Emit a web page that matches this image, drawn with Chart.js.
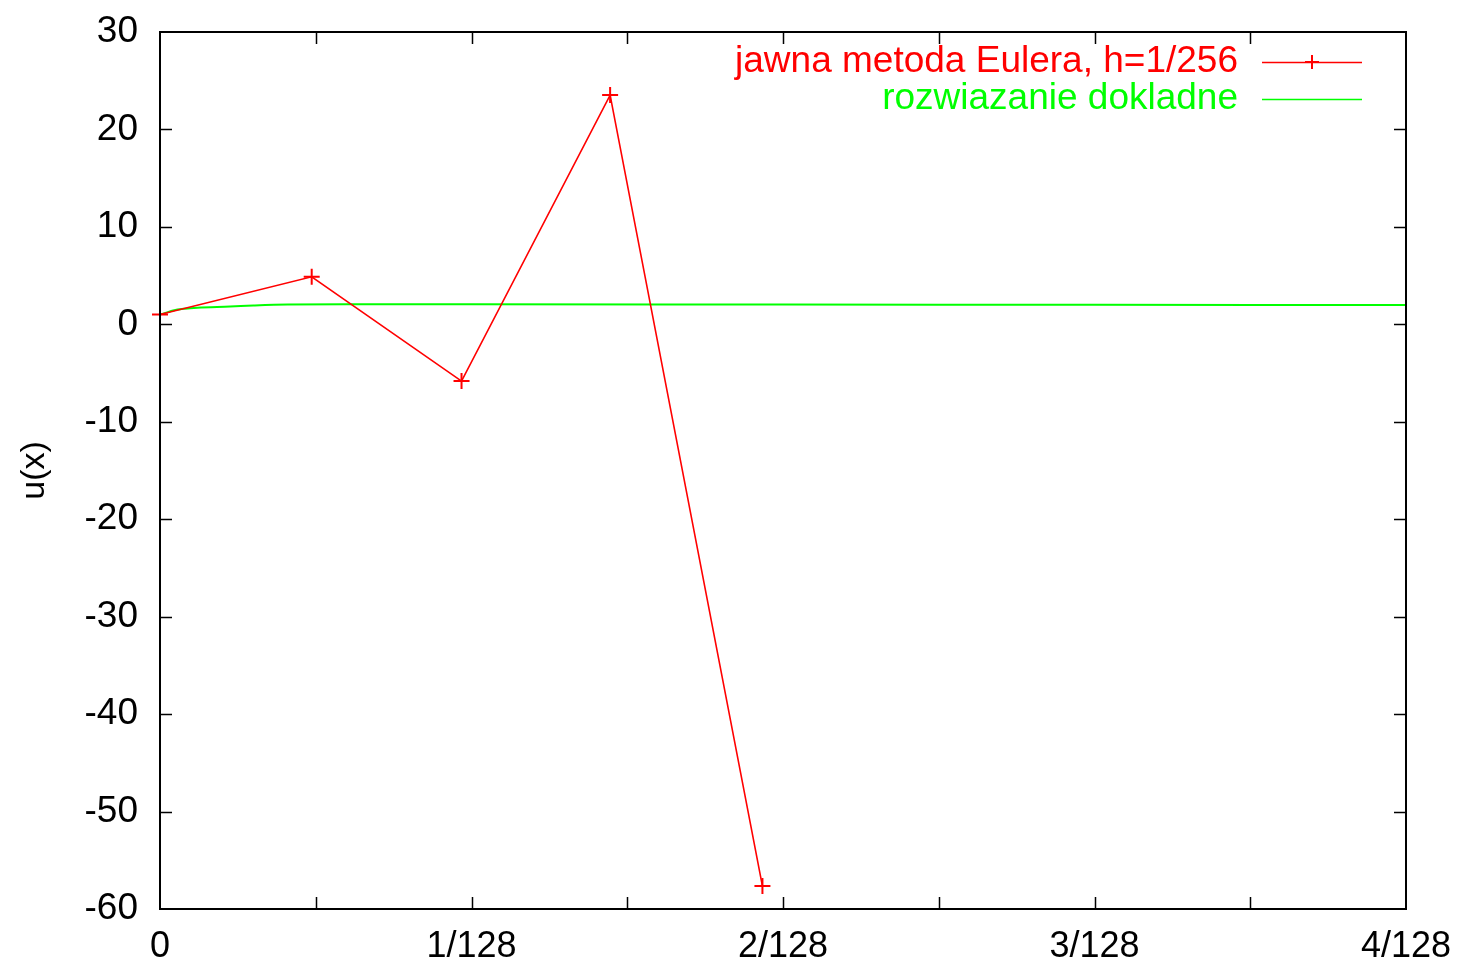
<!DOCTYPE html>
<html>
<head>
<meta charset="utf-8">
<script src="https://cdn.jsdelivr.net/npm/chart.js@4/dist/chart.umd.min.js"></script>
<style>
html,body{margin:0;padding:0;background:#fff;}
#wrap{width:1460px;height:968px;position:relative;}
</style>
</head>
<body>
<div id="wrap"><canvas id="c" width="1460" height="968"></canvas></div>
<script>
// x in units of 1/128
const eulerX = [0, 0.487, 0.968, 1.445, 1.934];
const eulerY = [1.0, 4.88, -5.82, 23.53, -57.65];
const exactX = [0, 0.02, 0.042, 0.08, 0.12, 0.225, 0.3, 0.41, 0.6, 1.0, 2.0, 3.0, 4.0];
const exactY = [1.0, 1.2, 1.42, 1.6, 1.7, 1.82, 1.93, 2.03, 2.05, 2.05, 2.03, 2.0, 1.98];
const xTickLabels = {0: '0', 1: '1/128', 2: '2/128', 3: '3/128', 4: '4/128'};
const labels = ['jawna metoda Eulera, h=1/256', 'rozwiazanie dokladne'];
const yTitle = 'u(x)';

const FONT = 'Liberation Sans, Arial, sans-serif';

const framePlugin = {
  id: 'frame',
  afterDatasetsDraw(chart) {
    const ctx = chart.ctx, a = chart.chartArea;
    const xs = chart.scales.x, ys = chart.scales.y;
    ctx.save();
    ctx.strokeStyle = '#000';
    ctx.lineWidth = 1.5;
    const L = 12;
    ctx.beginPath();
    xs.ticks.forEach(t => {
      const px = Math.round(xs.getPixelForValue(t.value)) + 0.5;
      if (t.value <= 0 || t.value >= 4) return;
      ctx.moveTo(px, a.bottom); ctx.lineTo(px, a.bottom - L);
      ctx.moveTo(px, a.top); ctx.lineTo(px, a.top + L);
    });
    ys.ticks.forEach(t => {
      const py = Math.round(ys.getPixelForValue(t.value)) + 0.5;
      if (t.value <= -60 || t.value >= 30) return;
      ctx.moveTo(a.left, py); ctx.lineTo(a.left + L, py);
      ctx.moveTo(a.right, py); ctx.lineTo(a.right - L, py);
    });
    ctx.stroke();
    ctx.lineWidth = 2;
    ctx.strokeRect(a.left, a.top, a.right - a.left, a.bottom - a.top);

    // legend (gnuplot style: text right-aligned, then sample)
    ctx.font = '37px ' + FONT;
    ctx.textAlign = 'right';
    ctx.textBaseline = 'middle';
    const rows = [62, 99];
    chart.data.datasets.forEach((ds, i) => {
      const y = rows[i];
      ctx.fillStyle = ds.borderColor;
      ctx.fillText(ds.label, 1238, y);
      ctx.strokeStyle = ds.borderColor;
      ctx.lineWidth = 1.5;
      ctx.beginPath();
      ctx.moveTo(1262, y + 0.5); ctx.lineTo(1362, y + 0.5);
      ctx.stroke();
      if (ds.pointStyle === 'cross') {
        ctx.lineWidth = 2;
        ctx.beginPath();
        ctx.moveTo(1312, y - 7); ctx.lineTo(1312, y + 7);
        ctx.moveTo(1305, y); ctx.lineTo(1319, y);
        ctx.stroke();
      }
    });
    ctx.restore();
  }
};

new Chart(document.getElementById('c'), {
  type: 'scatter',
  data: {
    datasets: [
      {
        label: labels[0],
        data: eulerX.map((x, i) => ({x, y: eulerY[i]})),
        showLine: true,
        borderColor: '#ff0000',
        backgroundColor: '#ff0000',
        borderWidth: 1.6,
        pointStyle: 'cross',
        pointRadius: 8,
        pointBorderWidth: 2,
        pointHoverRadius: 8,
        clip: false
      },
      {
        label: labels[1],
        data: exactX.map((x, i) => ({x, y: exactY[i]})),
        showLine: true,
        borderColor: '#00ff00',
        backgroundColor: '#00ff00',
        borderWidth: 2,
        pointRadius: 0,
        pointHoverRadius: 0,
        cubicInterpolationMode: 'monotone'
      }
    ]
  },
  options: {
    responsive: false,
    animation: false,
    devicePixelRatio: 1,
    layout: {padding: {top: 32, right: 54, left: 14, bottom: 0}},
    plugins: {
      legend: {display: false},
      tooltip: {enabled: false}
    },
    scales: {
      x: {
        type: 'linear',
        min: 0, max: 4,
        grid: {display: false, drawTicks: false},
        border: {display: false},
        ticks: {
          stepSize: 0.5,
          autoSkip: false,
          maxRotation: 0,
          padding: 16,
          color: '#000',
          font: {family: FONT, size: 36},
          callback: v => (xTickLabels[v] !== undefined ? xTickLabels[v] : '')
        },
        afterFit(s) { s.height = 59; s.paddingLeft = 0; s.paddingRight = 0; }
      },
      y: {
        min: -60, max: 30,
        grid: {display: false, drawTicks: false},
        border: {display: false},
        ticks: {
          stepSize: 10,
          padding: 22,
          color: '#000',
          font: {family: FONT, size: 37}
        },
        title: {
          display: true,
          text: yTitle,
          color: '#000',
          font: {family: FONT, size: 34},
          padding: {top: 0, bottom: 0}
        },
        afterFit(s) { s.width = 146; s.paddingTop = 0; s.paddingBottom = 0; }
      }
    }
  },
  plugins: [framePlugin]
});
</script>
</body>
</html>
